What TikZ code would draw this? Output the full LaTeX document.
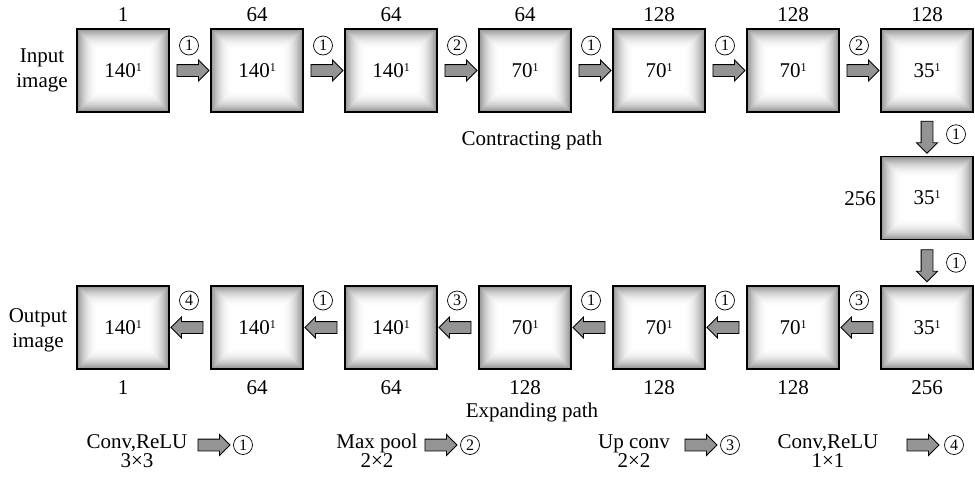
\documentclass[tikz,border=0pt]{standalone}
\usepackage{fontspec}
\setmainfont{Liberation Serif}
\usetikzlibrary{shapes.arrows,calc}
\newcommand\supone{\raisebox{6pt}{\fontsize{12}{12}\selectfont 1}}
\tikzset{
  every node/.style={font=\fontsize{21}{25}\selectfont},
  box/.style={draw, line width=1.6pt, minimum width=92pt, minimum height=83pt, inner sep=0pt,
    path picture={
      \fill[white] (path picture bounding box.north west) rectangle (path picture bounding box.south east);
      \foreach \i in {0,...,22} {
        \pgfmathsetmacro\cc{42*(1-\i/22)^2.2}
        \fill[black!\cc] ([shift={(\i,\i)}]path picture bounding box.north west) rectangle ([shift={(-\i,-\i)}]path picture bounding box.south east);
      }
      \fill[white] ([shift={(23,23)}]path picture bounding box.north west) rectangle ([shift={(-23,-23)}]path picture bounding box.south east);
    }},
  barrow/.style={single arrow, draw=black, fill=black!42, line width=0.9pt, minimum height=32pt, single arrow head extend=4.5pt, single arrow head indent=0pt, inner sep=5.5pt},
  larrow/.style={barrow, shape border rotate=180},
  darrow/.style={barrow, shape border rotate=270},
  circ/.style={circle, draw, line width=0.7pt, inner sep=0pt, minimum size=19pt, font=\fontsize{16}{16}\selectfont},
  lbl/.style={inner sep=0pt},
  twoline/.style={align=center, inner sep=0pt, font=\fontsize{21}{25}\selectfont},
  legend/.style={align=center, inner sep=0pt, font=\fontsize{21}{19}\selectfont}
}
\begin{document}
\begin{tikzpicture}[x=1pt,y=-1pt]
\useasboundingbox (0,0) rectangle (975,477);
% top row
\node[box] (t1) at (123,70.5) {140\supone};
\node[box] (t2) at (257,70.5) {140\supone};
\node[box] (t3) at (391,70.5) {140\supone};
\node[box] (t4) at (525,70.5) {70\supone};
\node[box] (t5) at (659,70.5) {70\supone};
\node[box] (t6) at (793,70.5) {70\supone};
\node[box] (t7) at (927,70.5) {35\supone};
\node[lbl] (tl1) at (123,15) {1};
\node[lbl] (tl2) at (257,15) {64};
\node[lbl] (tl3) at (391,15) {64};
\node[lbl] (tl4) at (525,15) {64};
\node[lbl] (tl5) at (659,15) {128};
\node[lbl] (tl6) at (793,15) {128};
\node[lbl] (tl7) at (927,15) {128};
\node[twoline] (in) at (42,70.5) {Input\\image};
\node[lbl, anchor=base] (cp) at (532,145) {Contracting path};
% top arrows
\node[barrow] (ta1) at ($(t1.east)!0.5!(t2.west)$) {};
\node[barrow] (ta2) at ($(t2.east)!0.5!(t3.west)$) {};
\node[barrow] (ta3) at ($(t3.east)!0.5!(t4.west)$) {};
\node[barrow] (ta4) at ($(t4.east)!0.5!(t5.west)$) {};
\node[barrow] (ta5) at ($(t5.east)!0.5!(t6.west)$) {};
\node[barrow] (ta6) at ($(t6.east)!0.5!(t7.west)$) {};
\node[circ] (tc1) at ($(ta1)+(-1,-25)$) {1};
\node[circ] (tc2) at ($(ta2)+(-1,-25)$) {1};
\node[circ] (tc3) at ($(ta3)+(-1,-25)$) {2};
\node[circ] (tc4) at ($(ta4)+(-1,-25)$) {1};
\node[circ] (tc5) at ($(ta5)+(-1,-25)$) {1};
\node[circ] (tc6) at ($(ta6)+(-1,-25)$) {2};
% middle
\node[box] (m) at (927,198) {35\supone};
\node[lbl] (ml) at (860,199) {256};
\node[darrow] (da1) at ($(t7.south)!0.5!(m.north)$) {};
\node[circ] (dc1) at ($(da1)+(29,0)$) {1};
% bottom row
\node[box] (b1) at (123,327.5) {140\supone};
\node[box] (b2) at (257,327.5) {140\supone};
\node[box] (b3) at (391,327.5) {140\supone};
\node[box] (b4) at (525,327.5) {70\supone};
\node[box] (b5) at (659,327.5) {70\supone};
\node[box] (b6) at (793,327.5) {70\supone};
\node[box] (b7) at (927,327.5) {35\supone};
\node[darrow] (da2) at ($(m.south)!0.5!(b7.north)$) {};
\node[circ] (dc2) at ($(da2)+(29,0)$) {1};
\node[lbl] (bl1) at (123,388) {1};
\node[lbl] (bl2) at (257,388) {64};
\node[lbl] (bl3) at (391,388) {64};
\node[lbl] (bl4) at (525,388) {128};
\node[lbl] (bl5) at (659,388) {128};
\node[lbl] (bl6) at (793,388) {128};
\node[lbl] (bl7) at (927,388) {256};
\node[twoline] (out) at (38,330.5) {Output\\image};
\node[lbl, anchor=base] (ep) at (532,417) {Expanding path};
\node[larrow] (ba1) at ($(b1.east)!0.5!(b2.west)$) {};
\node[larrow] (ba2) at ($(b2.east)!0.5!(b3.west)$) {};
\node[larrow] (ba3) at ($(b3.east)!0.5!(b4.west)$) {};
\node[larrow] (ba4) at ($(b4.east)!0.5!(b5.west)$) {};
\node[larrow] (ba5) at ($(b5.east)!0.5!(b6.west)$) {};
\node[larrow] (ba6) at ($(b6.east)!0.5!(b7.west)$) {};
\node[circ] (bc1) at ($(ba1)+(-1,-27)$) {4};
\node[circ] (bc2) at ($(ba2)+(-1,-27)$) {1};
\node[circ] (bc3) at ($(ba3)+(-1,-27)$) {3};
\node[circ] (bc4) at ($(ba4)+(-1,-27)$) {1};
\node[circ] (bc5) at ($(ba5)+(-1,-27)$) {1};
\node[circ] (bc6) at ($(ba6)+(-1,-27)$) {3};
% legend
\node[legend] (lg1) at (137,451) {Conv,ReLU\\3×3};
\node[barrow] (la1) at (211,445) {};
\node[circ] (lc1) at (243,445) {1};
\node[legend] (lg2) at (377,451) {Max pool\\2×2};
\node[barrow] (la2) at (438,445) {};
\node[circ] (lc2) at (470,445) {2};
\node[legend] (lg3) at (634,451) {Up conv\\2×2};
\node[barrow] (la3) at (698,445) {};
\node[circ] (lc3) at (730,445) {3};
\node[legend] (lg4) at (828,451) {Conv,ReLU\\1×1};
\node[barrow] (la4) at (920,445) {};
\node[circ] (lc4) at (954,445) {4};
\end{tikzpicture}
\end{document}
